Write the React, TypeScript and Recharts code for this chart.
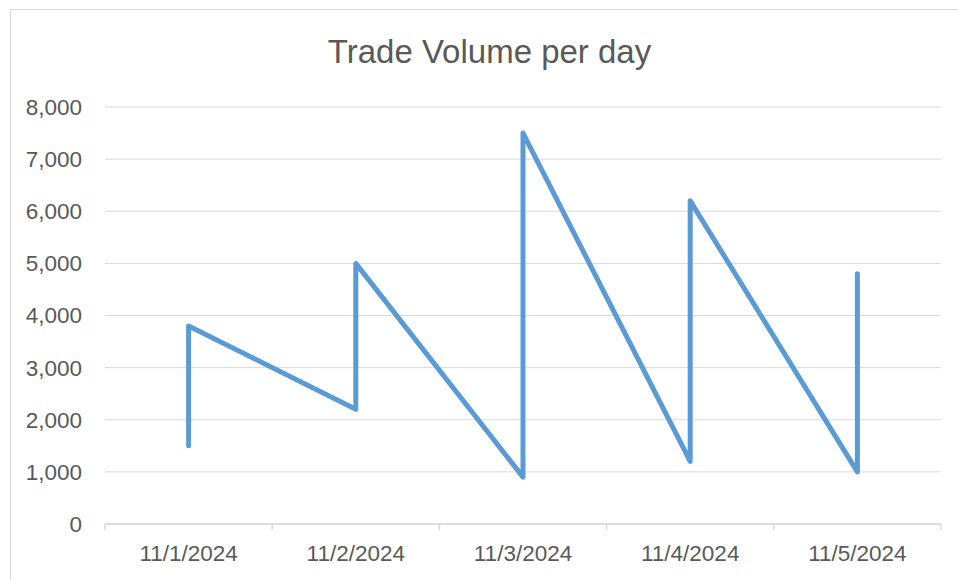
import React from 'react';
import { LineChart, Line, XAxis, YAxis, CartesianGrid } from 'recharts';

const dayLabels = ['11/1/2024', '11/2/2024', '11/3/2024', '11/4/2024', '11/5/2024'];
// each day has an opening and closing reading, plotted at the same category
const dayIndex = [1, 1, 2, 2, 3, 3, 4, 4, 5, 5];
const volumes = [1500, 3800, 2200, 5000, 900, 7500, 1200, 6200, 1000, 4800];
const yTicks = [0, 1000, 2000, 3000, 4000, 5000, 6000, 7000, 8000];

const chartData = dayIndex.map((day, i) => ({ day, volume: volumes[i] }));

// label ticks at the category centres, tick marks at the boundaries
const xTicks: number[] = [];
for (let i = 0; i <= dayLabels.length; i++) {
  xTicks.push(i + 0.5);
  if (i < dayLabels.length) xTicks.push(i + 1);
}

const FONT = '"Liberation Sans", Arial, sans-serif';
const TEXT = '#595959';
const GRID = '#d9d9d9';

const DayTick = (props: any) => {
  const { x, y, payload } = props;
  const v = payload.value;
  if (!Number.isInteger(v)) {
    return <line x1={x} x2={x} y1={y} y2={y + 6} stroke={GRID} strokeWidth={1.5} />;
  }
  return (
    <text x={x} y={y + 29} dy="0.35em" textAnchor="middle" fill={TEXT} fontSize={22.5} fontFamily={FONT}>
      {dayLabels[v - 1]}
    </text>
  );
};

const App: React.FC = () => {
  return (
    <div style={{ position: 'absolute', left: 0, top: 0, width: 958, height: 580, overflow: 'hidden', background: '#fff' }}>
      <div
        style={{
          position: 'absolute',
          left: 10,
          top: 9,
          width: 1000,
          height: 700,
          borderLeft: `1px solid ${GRID}`,
          borderTop: `1px solid ${GRID}`,
        }}
      />
      <div
        style={{
          position: 'absolute',
          left: 0,
          top: 33,
          width: 979,
          textAlign: 'center',
          fontFamily: FONT,
          fontSize: 33,
          color: TEXT,
          lineHeight: 'normal',
        }}
      >
        Trade Volume per day
      </div>
      <div style={{ position: 'absolute', left: 0, top: 0 }}>
        <LineChart width={958} height={580} data={chartData} margin={{ top: 107, right: 17, bottom: 0, left: 0 }}>
          <CartesianGrid vertical={false} stroke={GRID} />
          <XAxis
            dataKey="day"
            type="number"
            domain={[0.5, 5.5]}
            ticks={xTicks}
            interval={0}
            tick={<DayTick />}
            tickLine={false}
            tickSize={0}
            tickMargin={0}
            axisLine={{ stroke: GRID, strokeWidth: 1.5 }}
            height={56}
          />
          <YAxis
            type="number"
            domain={[0, 8000]}
            ticks={yTicks}
            width={105}
            axisLine={false}
            tickLine={false}
            tickSize={0}
            tickMargin={23}
            tickFormatter={(v: number) => v.toLocaleString('en-US')}
            tick={{ fill: TEXT, fontSize: 22.5, fontFamily: FONT }}
          />
          <Line
            dataKey="volume"
            type="linear"
            stroke="#5b9bd5"
            strokeWidth={5}
            strokeLinecap="round"
            strokeLinejoin="round"
            dot={false}
            activeDot={false}
            isAnimationActive={false}
          />
        </LineChart>
      </div>
    </div>
  );
};

export default App;
